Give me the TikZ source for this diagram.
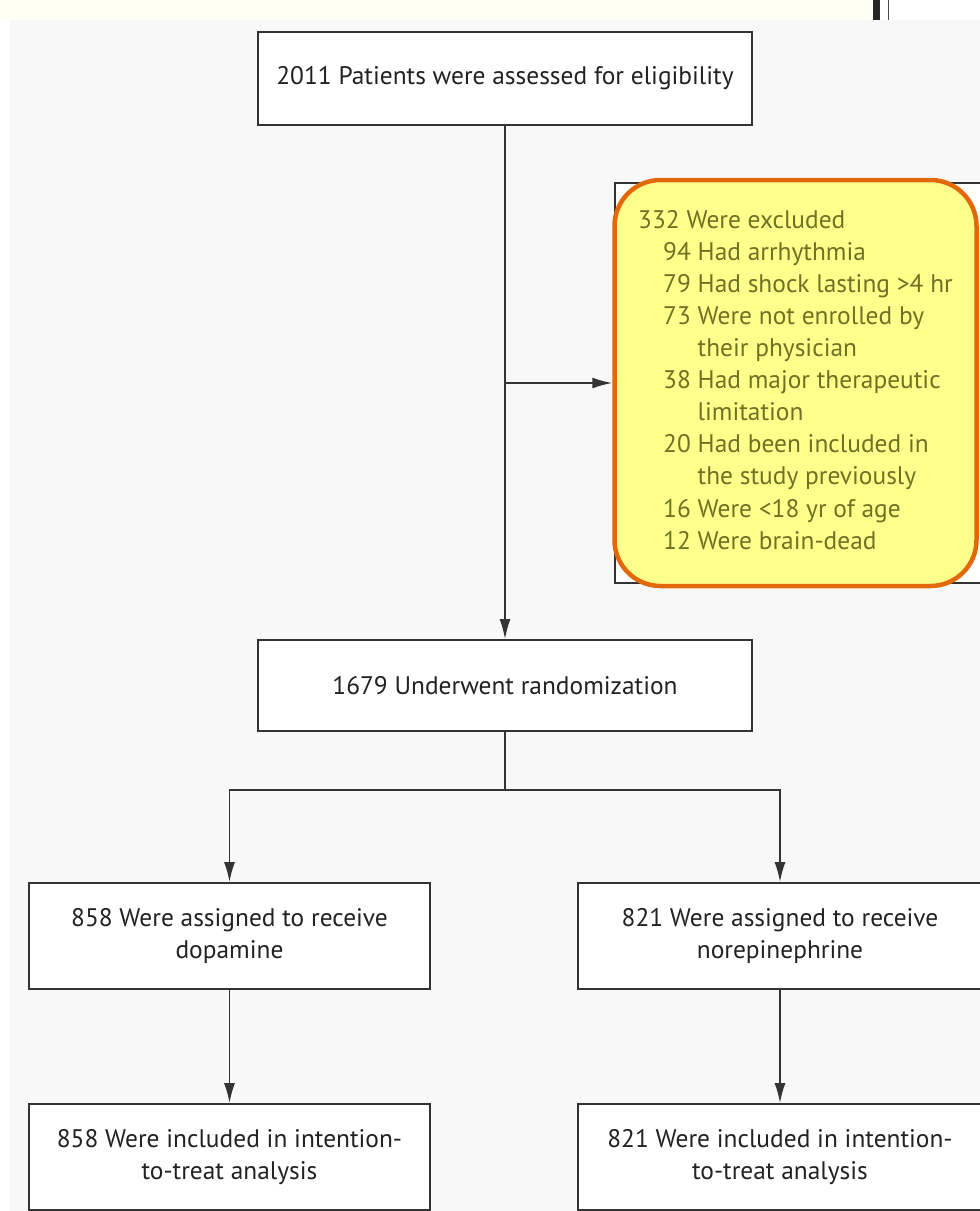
\documentclass[tikz,border=0pt]{standalone}
\usepackage{fontspec}
\setmainfont{PT Sans}
\usetikzlibrary{arrows.meta}
\definecolor{bggray}{HTML}{F8F8F8}
\definecolor{cream}{HTML}{FFFFF4}
\definecolor{boxline}{HTML}{333333}
\definecolor{txt}{HTML}{222222}
\definecolor{hlfill}{HTML}{FFFF8C}
\definecolor{hlline}{HTML}{E2680A}
\definecolor{oltxt}{HTML}{6F7222}
\tikzset{
  box/.style={draw=boxline, line width=1.8bp, fill=white, align=center, text=txt,
    font=\fontsize{25.5}{31.5}\selectfont, inner sep=0pt},
  conn/.style={draw=boxline, line width=1.8bp},
  arr/.style={conn, -{Latex[length=20bp,width=11bp]}},
}
\begin{document}
\begin{tikzpicture}[x=1bp,y=-1bp]
\useasboundingbox (0,0) rectangle (980,1211);
\fill[white] (0,0) rectangle (980,1211);
\fill[cream] (0,0) rectangle (870,20);
\fill[bggray] (10,20) rectangle (980,1211);
\fill[black!85] (873,0) rectangle (880,20);
\fill[black!70] (887.5,0) rectangle (889,20);

% main boxes
\node[box, minimum width=494bp, minimum height=93bp] (elig) at (505,78.5) {2011 Patients were assessed for eligibility};
\node[box, minimum width=494bp, minimum height=91bp] (rand) at (505,685.5) {1679 Underwent randomization};
\node[box, minimum width=401bp, minimum height=106bp] (dopa) at (229.5,936) {858 Were assigned to receive\\dopamine};
\node[box, minimum width=404bp, minimum height=106bp] (nore) at (780,936) {821 Were assigned to receive\\norepinephrine};
\node[box, minimum width=401bp, minimum height=106bp] (itt1) at (229.5,1157) {858 Were included in intention-\\to-treat analysis};
\node[box, minimum width=404bp, minimum height=106bp] (itt2) at (780,1157) {821 Were included in intention-\\to-treat analysis};

% exclusion box (original) and highlight overlay
\node[draw=boxline, line width=1.6bp, fill=white, minimum width=370bp, minimum height=400bp, inner sep=0pt] (exclbg) at (800,383) {};
\node[draw=hlline, fill=hlfill, line width=4.5bp, rounded corners=46bp, minimum width=362bp, minimum height=406bp, inner sep=0pt] (excl) at (795.5,383) {};
\node[anchor=north west, align=left, inner sep=0pt, text=oltxt, font=\fontsize{25.5}{32.2}\selectfont] (excltext) at (638,210) {%
332 Were excluded\\
\hspace*{25bp}94 Had arrhythmia\\
\hspace*{25bp}79 Had shock lasting >4 hr\\
\hspace*{25bp}73 Were not enrolled by\\
\hspace*{25bp}\phantom{73\ }their physician\\
\hspace*{25bp}38 Had major therapeutic\\
\hspace*{25bp}\phantom{38\ }limitation\\
\hspace*{25bp}20 Had been included in\\
\hspace*{25bp}\phantom{20\ }the study previously\\
\hspace*{25bp}16 Were <18 yr of age\\
\hspace*{25bp}12 Were brain-dead};

% connectors
\coordinate (branch) at (elig.south |- excl.west);
\draw[arr] (elig.south) -- (rand.north);
\draw[arr] (branch) -- (excl.west);
\coordinate (split) at (505,790);
\draw[conn] (rand.south) -- (split);
\draw[arr] (split) -| (dopa.north);
\draw[arr] (split) -| (nore.north);
\draw[arr] (dopa.south) -- (itt1.north);
\draw[arr] (nore.south) -- (itt2.north);
\end{tikzpicture}
\end{document}
